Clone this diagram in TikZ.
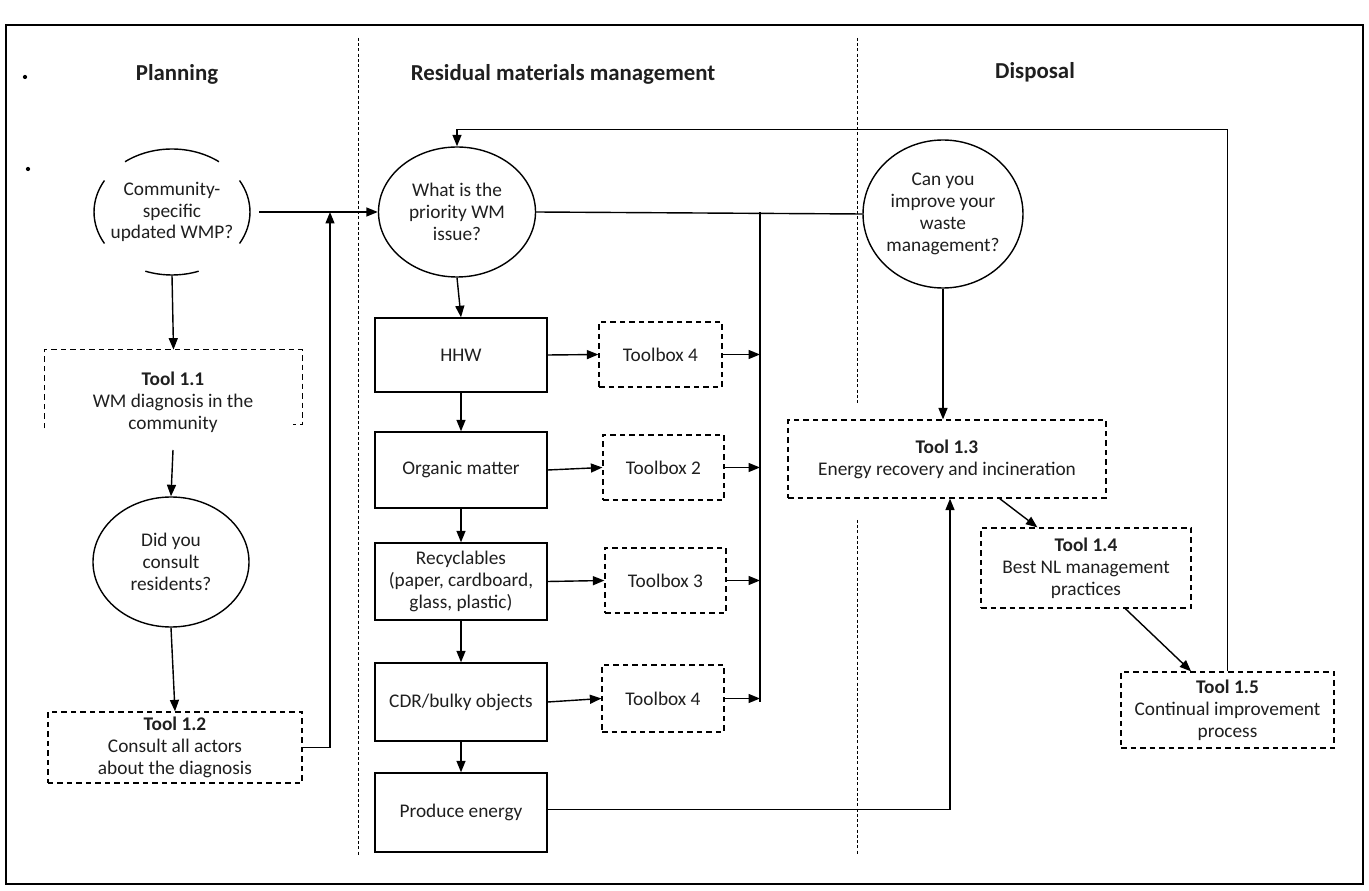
\documentclass[tikz,border=0pt]{standalone}
\usepackage{fontspec}
\setmainfont{Carlito}
\usetikzlibrary{arrows.meta,calc,shapes.geometric}
\begin{document}
\begin{tikzpicture}[x=0.02cm,y=-0.02cm,
  every node/.style={font=\fontsize{11}{12.4}\selectfont, align=center, inner sep=0pt, text=black!88},
  sz/.style 2 args={minimum width=#1*0.02cm, minimum height=#2*0.02cm},
  solidbox/.style={draw, line width=0.8pt},
  dashbox/.style={draw, line width=0.7pt, dash pattern=on 1.1mm off 0.8mm, fill=white},
  dashline/.style={line width=0.7pt, dash pattern=on 1.1mm off 0.8mm},
  oval/.style={ellipse, draw, line width=0.8pt},
  arr/.style={line width=0.8pt, -{Triangle[length=2.3mm,width=1.8mm]}},
  link/.style={line width=0.8pt},
  divider/.style={line width=0.5pt, dash pattern=on 0.6mm off 0.45mm},
  heading/.style={font=\fontsize{13}{15}\selectfont\bfseries}]

\useasboundingbox (0,0) rectangle (1369,891);
\draw[line width=1pt] (6,25) rectangle (1363,884);

% column separators
\draw[divider] (358,38) -- (358,855);
\draw[divider] (857,38) -- (857,405);
\draw[divider] (857,520) -- (857,855);

% column headings
\node[heading] (hplan) at (177,74) {Planning};
\node[heading] (hres) at (563,74) {Residual materials management};
\node[heading] (hdisp) at (1035,72) {Disposal};
\fill (25,77) circle[radius=1.2pt];
\fill (28,169) circle[radius=1.2pt];

% ---- planning column
\node[ellipse, sz={156}{126}] (e1) at (172,212) {Community-\\specific\\updated WMP?};
\draw[link] ([shift={(53:1.56cm and 1.26cm)}]e1.center) arc[start angle=53, end angle=127, x radius=1.56cm, y radius=1.26cm];
\draw[link] ([shift={(150:1.56cm and 1.26cm)}]e1.center) arc[start angle=150, end angle=210, x radius=1.56cm, y radius=1.26cm];
\draw[link] ([shift={(-30:1.56cm and 1.26cm)}]e1.center) arc[start angle=-30, end angle=30, x radius=1.56cm, y radius=1.26cm];
\draw[link] ([shift={(250:1.56cm and 1.26cm)}]e1.center) arc[start angle=250, end angle=290, x radius=1.56cm, y radius=1.26cm];

\node[sz={257}{78}] (t11) at (173.5,389) {};
\node (t11txt) at (173,402) {\textbf{Tool 1.1}\\WM diagnosis in the\\community};
\draw[dashline] (t11.south west) -- (t11.north west) -- (t11.north east) -- ($(t11.south east)+(0,-4)$) -- ++(-9,0);

\node[oval, sz={156}{130}] (e3) at (171,562) {Did you\\consult\\residents?};
\node[dashbox, sz={254}{71}] (t12) at (175,747.5) {\textbf{Tool 1.2}\\Consult all actors\\about the diagnosis};

% ---- residual materials column
\node[oval, sz={157}{130}] (e2) at (457,212) {What is the\\priority WM\\issue?};
\node[solidbox, sz={172}{74}] (hhw) at (461,355) {HHW};
\node[solidbox, sz={172}{76}] (org) at (461,470) {Organic matter};
\node[solidbox, sz={172}{77}] (rec) at (461,581.5) {Recyclables\\(paper, cardboard,\\glass, plastic)};
\node[solidbox, sz={172}{78}] (cdr) at (461,702) {CDR/bulky objects};
\node[solidbox, sz={172}{79}] (pe) at (461,812.5) {Produce energy};

\node[dashbox, sz={123}{65}] (tb1) at (660.5,354.5) {Toolbox 4};
\node[dashbox, sz={121}{65}] (tb2) at (663.5,467.5) {Toolbox 2};
\node[dashbox, sz={121}{65}] (tb3) at (665.5,580.5) {Toolbox 3};
\node[dashbox, sz={122}{67}] (tb4) at (663,698.5) {Toolbox 4};

\coordinate (colT) at (760,212);
\coordinate (colB) at (760,702);

% ---- disposal column
\node[oval, sz={158}{148}] (c3) at (943,214) {Can you\\improve your\\waste\\management?};
\node[dashbox, sz={318}{78}] (t13) at (947,459) {\textbf{Tool 1.3}\\Energy recovery and incineration};
\node[dashbox, sz={210}{80}] (t14) at (1086,568) {\textbf{Tool 1.4}\\Best NL management\\practices};
\node[dashbox, sz={213}{76}] (t15) at (1227.5,710) {\textbf{Tool 1.5}\\Continual improvement\\process};

% ---- connectors
\draw[arr] (e1.east) -- (e2.west);
\draw[arr] (e1.south) -- (t11.north);
\coordinate (t11out) at (173,450);
\draw[arr] (t11out) -- (e3.north);
\draw[arr] (e3.south) -- (t12.north);
\coordinate (joinL) at (330,212);
\draw[arr] (t12.east) -| (joinL);

\draw[link] (e2.east) -- (c3.west);
\draw[link] (colT) -- (colB);
\draw[arr] (e2.south) -- (hhw.north);
\draw[arr] (hhw.south) -- (org.north);
\draw[arr] (org.south) -- (rec.north);
\draw[arr] (rec.south) -- (cdr.north);
\draw[arr] (cdr.south) -- (pe.north);

\draw[arr] (hhw.east) -- (tb1.west);
\draw[arr] (org.east) -- (tb2.west);
\draw[arr] (rec.east) -- (tb3.west);
\draw[arr] (cdr.east) -- (tb4.west);
\draw[arr] (tb1.east) -- (tb1.east -| colT);
\draw[arr] (tb2.east) -- (tb2.east -| colT);
\draw[arr] (tb3.east) -- (tb3.east -| colT);
\draw[arr] (tb4.east) -- (tb4.east -| colT);

\draw[arr] (c3.south) -- (c3.south |- t13.north);
\draw[arr] ($(pe.east)+(0,-3)$) -| ($(t13.south)+(3,0)$);
\draw[arr] ($(t13.south west)!0.665!(t13.south east)$) -- ($(t14.north west)!0.27!(t14.north east)$);
\draw[arr] ($(t14.south west)!0.686!(t14.south east)$) -- ($(t15.north west)!0.33!(t15.north east)$);
\draw[arr] (t15.north) |- ($(e2.north)+(0,-17)$) -- (e2.north);
\end{tikzpicture}
\end{document}
